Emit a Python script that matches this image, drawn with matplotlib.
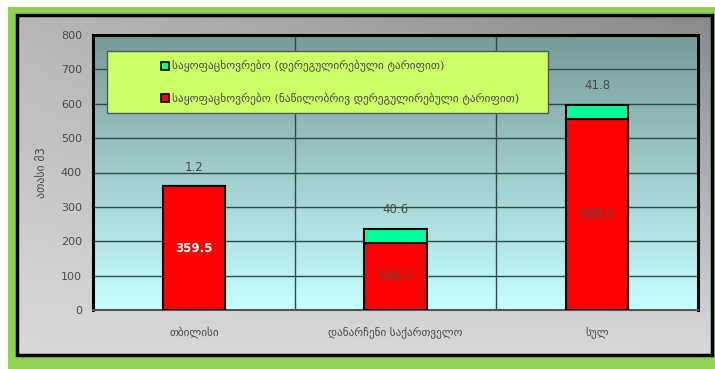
import numpy as np
import matplotlib.pyplot as plt
from matplotlib.patches import Patch, Rectangle

# Household consumption by region, thousand m3
categories = ['თბილისი', 'დანარჩენი საქართველო', 'სულ']
partly_regulated = [359.5, 196.3, 555.8]
deregulated = [1.2, 40.6, 41.8]
series_names = ['საყოფაცხოვრებო (დერეგულირებული ტარიფით)',
                'საყოფაცხოვრებო (ნაწილობრივ დერეგულირებული ტარიფით)']
y_label = 'ათასი მ3'
y_ticks = [0, 100, 200, 300, 400, 500, 600, 700, 800]

red = '#FF0000'
green = '#00FF99'
text_gray = '#4A4A4A'

plt.rcParams['font.family'] = ['DejaVu Sans']

fig = plt.figure(figsize=(7.15, 3.69), dpi=100)

# Green outer frame, black border and a grey gradient behind the chart
bg = fig.add_axes([0, 0, 1, 1])
bg.set_xlim(0, 715)
bg.set_ylim(369, 0)
bg.axis('off')
bg.add_patch(Rectangle((8, 7), 707, 362, facecolor='#92D050', edgecolor='none'))
gx, gy = np.meshgrid(np.linspace(0, 1, 200), np.linspace(0, 1, 100))
shade = 0.72 - 0.18 * gx * (1 - gy) + 0.13 * gy
shade = np.clip(shade, 0, 1)
bg.imshow(np.dstack([shade, shade, shade]), extent=(17, 712, 355, 15),
          aspect='auto', zorder=1)
bg.add_patch(Rectangle((17, 15), 695, 340, facecolor='none',
                       edgecolor='black', linewidth=2.5, zorder=2))

ax = fig.add_axes([93 / 715, 1 - 310 / 369, 605 / 715, 275 / 369])
x = np.arange(len(categories))

# Teal-to-cyan gradient in the plot area
grad = np.linspace(0, 1, 256)[:, None]
top = np.array([0x76, 0x9B, 0x99]) / 255
bottom = np.array([0xC6, 0xFF, 0xFF]) / 255
img = top + (bottom - top) * grad[:, :, None]
ax.imshow(np.repeat(img, 2, axis=1), extent=(-0.5, 2.5, 0, 800),
          aspect='auto', zorder=0)

for yv in y_ticks[1:-1]:
    ax.axhline(yv, color='#2E4A4A', linewidth=1, zorder=1)
for xv in [0.5, 1.5]:
    ax.axvline(xv, color='#2E4A4A', linewidth=1, zorder=1)

w = 0.31
ax.bar(x, partly_regulated, w, color=red, edgecolor='black', linewidth=1.5, zorder=3)
ax.bar(x, deregulated, w, bottom=partly_regulated, color=green,
       edgecolor='black', linewidth=1.5, zorder=3)

red_label_colors = ['white', '#505050', '#505050']
red_label_weights = ['bold', 'normal', 'normal']
for i, (r, g) in enumerate(zip(partly_regulated, deregulated)):
    ax.text(x[i], r / 2, f'{r:.1f}', ha='center', va='center', fontsize=8.5,
            color=red_label_colors[i], fontweight=red_label_weights[i], zorder=4)
    ax.text(x[i], r + g + 55, f'{g:.1f}', ha='center', va='center',
            fontsize=8.5, color=text_gray, zorder=4)

ax.set_xlim(-0.5, 2.5)
ax.set_ylim(0, 800)
ax.set_yticks(y_ticks)
ax.set_yticklabels([str(v) for v in y_ticks], fontsize=8, color=text_gray)
ax.set_xticks(x)
ax.set_xticklabels(categories, fontsize=8, color=text_gray)
ax.tick_params(length=0, pad=8)
ax.tick_params(axis='x', pad=12)
ax.set_ylabel(y_label, fontsize=8.5, color=text_gray, labelpad=9)
for side in ['left', 'top', 'right']:
    ax.spines[side].set_linewidth(2.2)
    ax.spines[side].set_color('black')
ax.spines['bottom'].set_color('#555555')
ax.spines['bottom'].set_linewidth(1.5)

# Legend sits in a lime box over the top of the plot
ax.add_patch(Rectangle((0.023, 0.716), 0.729, 0.226, transform=ax.transAxes,
                       facecolor='#CCFF66', edgecolor='#555555', linewidth=1,
                       zorder=5))
handles = [Patch(facecolor=green, edgecolor='black', linewidth=1.2),
           Patch(facecolor=red, edgecolor='black', linewidth=1.2)]
leg = ax.legend(handles, series_names, loc='upper left',
                bbox_to_anchor=(0.105, 0.925), frameon=False, fontsize=8.2,
                handlelength=0.7, handleheight=0.7, handletextpad=0.3,
                labelspacing=1.75, borderaxespad=0)
leg.set_zorder(6)
for t in leg.get_texts():
    t.set_color(text_gray)

fig.savefig('out.png', dpi=100)
